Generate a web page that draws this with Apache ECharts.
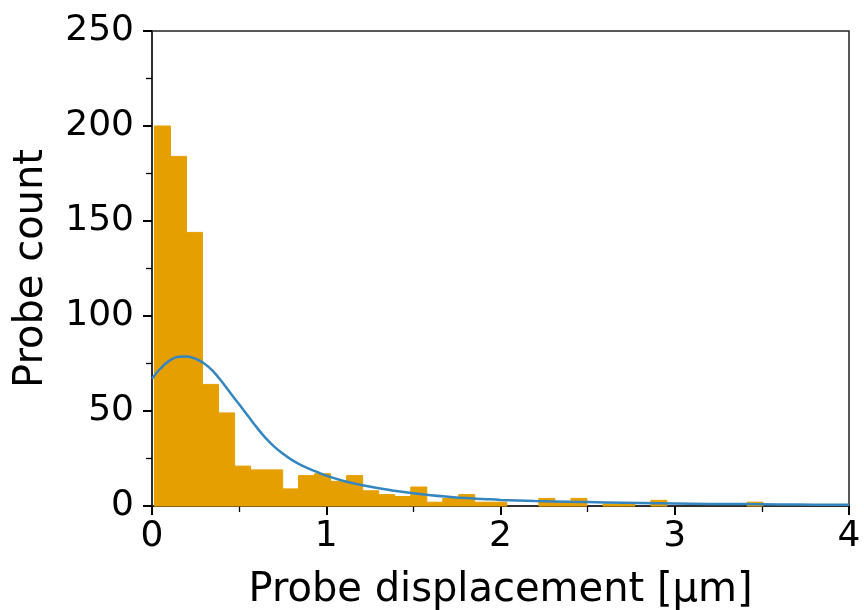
<!DOCTYPE html>
<html>
<head>
<meta charset="utf-8">
<script src="https://cdn.jsdelivr.net/npm/echarts@6/dist/echarts.min.js"></script>
<style>
html,body{margin:0;padding:0;background:#fff;}
#chart{width:864px;height:610px;}
</style>
</head>
<body>
<div id="chart"></div>
<script>
// Histogram bin edges (μm)
const binEdges = [0.014,0.106,0.198,0.290,0.382,0.474,0.566,0.658,0.750,0.841,
  0.933,1.025,1.117,1.209,1.301,1.393,1.485,1.577,1.669,1.760,
  1.852,1.944,2.036,2.128,2.220,2.312,2.404,2.496,2.588,2.679,
  2.771,2.863,2.955,3.047,3.139,3.231,3.323,3.415,3.507];
// Probe counts per bin
const binCounts = [200,184,144,64,49,21,19,19,9,16,
  17,13,16,8,6,5,10,2,4,6,
  2,2,0,0,4,2,4,0,1,1,
  0,3,0,0,0,0,0,2];
// Smooth density curve (scaled to counts)
const curveX = [0,0.05,0.10,0.15,0.20,0.25,0.30,0.35,0.40,0.45,0.50,0.55,0.60,0.65,0.70,0.75,0.80,0.85,0.90,0.95,
  1.0,1.1,1.2,1.3,1.4,1.5,1.6,1.7,1.8,1.9,2.0,2.2,2.4,2.6,2.8,3.0,3.2,3.4,3.6,3.8,4.0];
const curveY = [67,72.5,76.5,78.5,78.7,77.5,75,71,65.5,59.5,53.5,47.5,41.5,36,31.4,27.6,24.4,21.8,19.7,17.8,
  16.0,13.2,11.1,9.4,7.9,6.7,5.7,4.9,4.2,3.7,3.2,2.6,2.2,1.9,1.6,1.3,1.1,1.0,0.8,0.7,0.6];
const xTicks = [0,1,2,3,4];
const yTicks = [0,50,100,150,200,250];

const barData = binCounts.map((c, i) => [binEdges[i], binEdges[i + 1], c]);
const lineData = curveX.map((x, i) => [x, curveY[i]]);

const chart = echarts.init(document.getElementById('chart'), null, {renderer: 'canvas'});
const font = 'DejaVu Sans';
const barColor = '#E69F00';
chart.setOption({
  animation: false,
  backgroundColor: '#fff',
  grid: {left: 152, right: 15, top: 31, bottom: 104, containLabel: false, outerBoundsMode: 'none',
    show: true, borderColor: '#222', borderWidth: 1.5, backgroundColor: 'transparent'},
  xAxis: {
    type: 'value', min: xTicks[0], max: xTicks[xTicks.length - 1], interval: 1,
    name: 'Probe displacement [μm]', nameLocation: 'middle', nameGap: 65,
    nameTextStyle: {fontFamily: font, fontSize: 40, color: '#000'},
    axisLine: {show: true, lineStyle: {color: '#222', width: 1.5}},
    axisTick: {show: true, inside: false, length: 9, lineStyle: {color: '#000', width: 2}},
    minorTick: {show: true, splitNumber: 2, length: 6, lineStyle: {color: '#000', width: 1.3}},
    splitLine: {show: false},
    axisLabel: {fontFamily: font, fontSize: 36, color: '#000', margin: 13, showMinLabel: true, showMaxLabel: true}
  },
  yAxis: {
    type: 'value', min: yTicks[0], max: yTicks[yTicks.length - 1], interval: 50,
    name: 'Probe count', nameLocation: 'middle', nameGap: 100,
    nameTextStyle: {fontFamily: font, fontSize: 40, color: '#000'},
    axisLine: {show: true, lineStyle: {color: '#222', width: 1.5}},
    axisTick: {show: true, inside: false, length: 9, lineStyle: {color: '#000', width: 2}},
    minorTick: {show: true, splitNumber: 2, length: 6, lineStyle: {color: '#000', width: 1.3}},
    splitLine: {show: false},
    axisLabel: {fontFamily: font, fontSize: 36, color: '#000', margin: 18, showMinLabel: true, showMaxLabel: true}
  },
  series: [
    {
      type: 'custom',
      data: barData,
      encode: {x: [0, 1], y: 2},
      renderItem: function (params, api) {
        const p0 = api.coord([api.value(0), api.value(2)]);
        const p1 = api.coord([api.value(1), 0]);
        if (api.value(2) <= 0) return null;
        return {
          type: 'rect',
          shape: {x: p0[0], y: p0[1], width: p1[0] - p0[0], height: p1[1] - p0[1]},
          style: {fill: barColor, stroke: barColor, lineWidth: 1}
        };
      },
      z: 2
    },
    {
      type: 'line',
      data: lineData,
      smooth: 0.4,
      showSymbol: false,
      symbol: 'none',
      lineStyle: {color: '#3486c0', width: 2.5},
      z: 3
    }
  ]
});
</script>
</body>
</html>
